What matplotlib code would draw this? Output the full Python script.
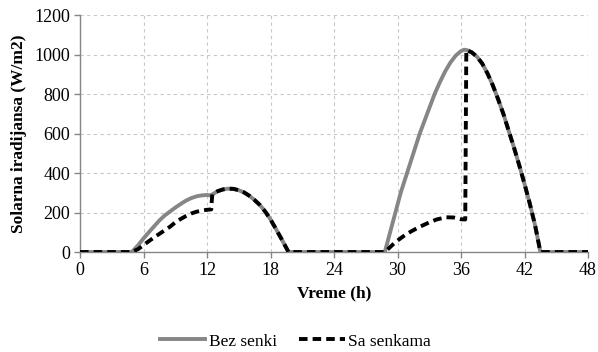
import matplotlib
matplotlib.use("Agg")
import matplotlib.pyplot as plt

# Bez senki (without shading)
bez_h = [0, 4.9, 5.5, 6, 6.5, 7, 7.5, 8, 8.5, 9, 9.5, 10, 10.5, 11, 11.5, 12, 12.3, 12.6, 13, 13.5, 14,
         14.5, 15, 15.5, 16, 16.5, 17, 17.5, 18, 18.5, 19, 19.4, 19.7,
         28.8, 29.3, 29.8, 30.3, 30.9, 31.5, 32.1, 32.8, 33.5, 34, 34.5, 35, 35.5, 36, 36.3, 36.6,
         37, 37.5, 38, 38.5, 39, 39.5, 40, 40.5, 41, 41.5, 42, 42.5, 43, 43.5, 48]
bez_v = [0, 0, 35, 69, 100, 130, 160, 185, 205, 225, 243, 260, 273, 282, 287, 289, 287, 295, 308, 317, 321,
         320, 313, 302, 285, 263, 238, 205, 165, 118, 70, 30, 0,
         0, 100, 200, 300, 400, 500, 600, 700, 800, 860, 915, 960, 995, 1018, 1025, 1022,
         1012, 990, 955, 905, 845, 775, 700, 615, 530, 440, 345, 245, 135, 0, 0]

# Sa senkama (with shading)
sa_h = [0, 4.9, 5.5, 6, 6.5, 7, 7.5, 8, 8.5, 9, 9.5, 10, 10.5, 11, 11.5, 12, 12.4, 12.45, 12.5, 13, 13.5, 14,
        14.5, 15, 15.5, 16, 16.5, 17, 17.5, 18, 18.5, 19, 19.4, 19.7,
        28.8, 29.3, 29.8, 30.5, 31.3, 32.1, 33, 33.7, 34.6, 35.3, 36, 36.4, 36.45, 36.5,
        37, 37.5, 38, 38.5, 39, 39.5, 40, 40.5, 41, 41.5, 42, 42.5, 43, 43.5, 48]
sa_v = [0, 0, 15, 35, 55, 74, 92, 110, 128, 150, 167, 182, 195, 204, 210, 214, 216, 260, 292, 308, 317, 321,
        320, 313, 302, 285, 263, 238, 205, 165, 118, 70, 30, 0,
        0, 25, 50, 78, 105, 128, 150, 165, 176, 175, 166, 165, 600, 1023,
        1012, 990, 955, 905, 845, 775, 700, 615, 530, 440, 345, 245, 135, 0, 0]

x_ticks = [0, 6, 12, 18, 24, 30, 36, 42, 48]
y_ticks = [0, 200, 400, 600, 800, 1000, 1200]
labels = ["Bez senki", "Sa senkama"]

plt.rcParams['font.family'] = ['Liberation Serif', 'DejaVu Serif']

fig = plt.figure(figsize=(5.98, 3.52), dpi=100)
ax = fig.add_axes([0.1338, 0.284, 0.8495, 0.673])

ax.plot(bez_h, bez_v, color='#868686', lw=2.8, label=labels[0], zorder=3)
ax.plot(sa_h, sa_v, color='black', lw=2.8, ls=(0, (2.2, 1.3)), label=labels[1], zorder=4)

ax.set_xlim(0, 48)
ax.set_ylim(0, 1200)
ax.set_xticks(x_ticks)
ax.set_yticks(y_ticks)
ax.grid(True, color='#c8c8c8', ls=(0, (3, 3)), lw=0.8)
ax.set_axisbelow(True)
for s in ['top', 'right']:
    ax.spines[s].set_visible(False)
for s in ['left', 'bottom']:
    ax.spines[s].set_color('#868686')
    ax.spines[s].set_linewidth(1.0)
ax.tick_params(axis='both', colors='#868686', labelcolor='black', labelsize=13, length=4, width=1, pad=3)

ax.set_xlabel('Vreme (h)', fontsize=12.5, fontweight='bold', labelpad=5)
ax.set_ylabel('Solarna iradijansa (W/m2)', fontsize=12.5, fontweight='bold', labelpad=5)

fig.legend(loc='center', bbox_to_anchor=(0.494, 0.03), ncol=2, frameon=False, fontsize=12.5,
           handlelength=2.6, columnspacing=1.3, handletextpad=0.2)

fig.savefig('out.png', dpi=100)
